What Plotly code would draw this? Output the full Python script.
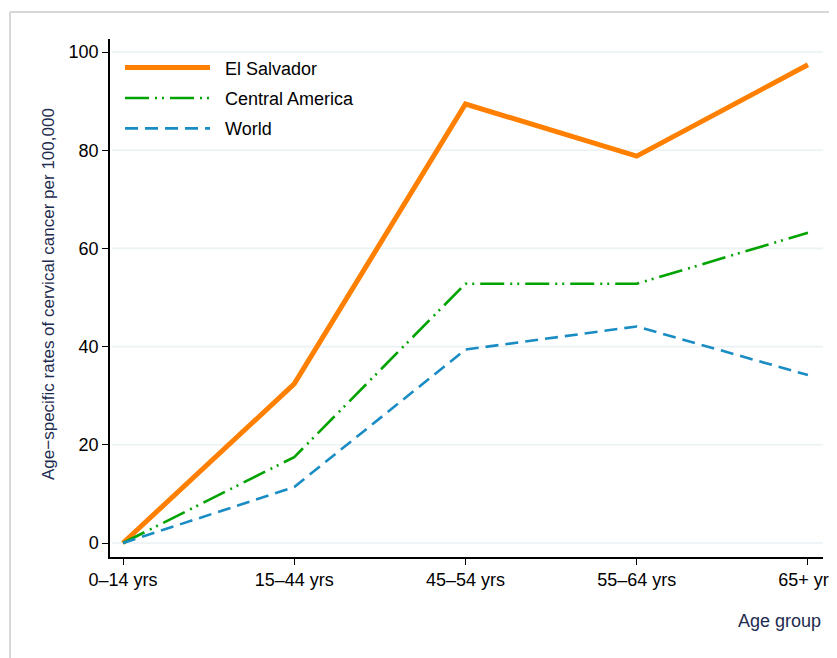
import plotly.graph_objects as go

age_groups = ["0–14 yrs", "15–44 yrs", "45–54 yrs", "55–64 yrs", "65+ yrs"]
el_salvador = [0.0, 32.4, 89.4, 78.8, 97.4]
central_america = [0.0, 17.5, 52.8, 52.8, 63.2]
world = [0.0, 11.4, 39.4, 44.1, 34.2]
y_ticks = [0, 20, 40, 60, 80, 100]

FONT = "Liberation Sans, Arial, sans-serif"
# page body has an 8px margin, so the figure is offset by (8, 8)
W, H = 837, 650
ML, MR, MT, MB = 102, 22, 31, 101
PW, PH = W - ML - MR, H - MT - MB

NB = "\u00a0\u00a0"

fig = go.Figure()
fig.add_trace(go.Scatter(x=age_groups, y=el_salvador, mode="lines", name=NB + "El Salvador",
                         legendgroup="a", line=dict(color="#ff8000", width=5)))
fig.add_trace(go.Scatter(x=age_groups, y=central_america, mode="lines", name=NB + "Central America",
                         legendgroup="b",
                         line=dict(color="#00a300", width=2.6, dash="24px,6px,2px,5px,2px,6px")))
fig.add_trace(go.Scatter(x=age_groups, y=world, mode="lines", name=NB + "World",
                         legendgroup="c",
                         line=dict(color="#1a8cc4", width=2.6, dash="13px,7px")))

shapes = []
for v in y_ticks:
    shapes.append(dict(type="line", xref="paper", yref="y", x0=0.003, x1=1.0, y0=v, y1=v,
                       line=dict(color="#eaf2f3", width=1.6), layer="below"))
# outer graph frame (light grey)
fx = (2 - ML) / PW
fy = (H - MB - 4) / PH
shapes.append(dict(type="line", xref="paper", yref="paper",
                   x0=fx, x1=(W + 20 - ML) / PW, y0=fy, y1=fy,
                   line=dict(color="#d8d8d8", width=2)))
shapes.append(dict(type="line", xref="paper", yref="paper",
                   x0=fx, x1=fx, y0=fy, y1=-(MB + 20) / PH,
                   line=dict(color="#d8d8d8", width=2)))

fig.update_layout(
    width=W, height=H,
    margin=dict(l=ML, r=MR, t=MT, b=MB, autoexpand=False),
    paper_bgcolor="white", plot_bgcolor="white",
    font=dict(family=FONT, size=18, color="black"),
    showlegend=True,
    legend=dict(x=10 / PW, y=0.98, xanchor="left", yanchor="top",
                bgcolor="rgba(0,0,0,0)", itemwidth=85, tracegroupgap=4,
                font=dict(size=18, color="black")),
    xaxis=dict(type="category", categoryorder="array", categoryarray=age_groups,
               range=[-0.076, 4.088], showgrid=False, zeroline=False, automargin=False,
               showline=True, linecolor="black", linewidth=1.5,
               ticks="outside", ticklen=6, tickwidth=1.2, tickcolor="black",
               tickfont=dict(size=18, color="black")),
    yaxis=dict(range=[-2.85, 102.65], tickvals=y_ticks, showgrid=False, zeroline=False,
               automargin=False,
               showline=True, linecolor="black", linewidth=1.5,
               ticks="outside", ticklen=6, tickwidth=1.2, tickcolor="black",
               tickfont=dict(size=18, color="black")),
    shapes=shapes,
    annotations=[
        dict(text="Age group", xref="paper", yref="paper", x=1.0,
             y=-(613 - (H - MB)) / PH, xanchor="right", yanchor="middle",
             showarrow=False, font=dict(size=18, color="#1e2b50")),
        dict(text="Age−specific rates of cervical cancer per 100,000", textangle=-90,
             xref="paper", yref="paper", x=(40 - ML) / PW, y=(H - MB - 286) / PH,
             xanchor="center", yanchor="middle", showarrow=False,
             font=dict(size=17, color="#1e2b50")),
    ],
)

fig.write_html("out.html")
